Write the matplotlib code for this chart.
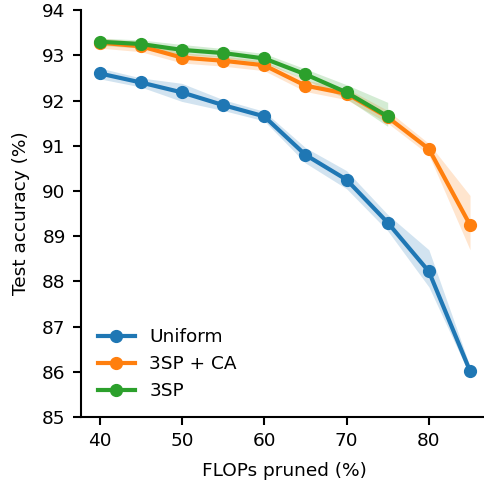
import numpy as np
import matplotlib
matplotlib.use("Agg")
import matplotlib.pyplot as plt

# FLOPs pruned (%)
flops = [40, 45, 50, 55, 60, 65, 70, 75, 80, 85]

uniform = [92.60, 92.40, 92.18, 91.90, 91.65, 90.80, 90.25, 89.30, 88.22, 86.02]
uniform_lo = [92.48, 92.30, 91.98, 91.78, 91.55, 90.62, 90.05, 89.12, 87.88, 85.92]
uniform_hi = [92.72, 92.50, 92.38, 92.02, 91.76, 90.96, 90.45, 89.48, 88.70, 86.12]

ca = [93.28, 93.20, 92.95, 92.88, 92.78, 92.33, 92.15, 91.63, 90.93, 89.25]
ca_lo = [93.16, 93.08, 92.83, 92.76, 92.66, 92.20, 92.02, 91.50, 90.80, 88.70]
ca_hi = [93.38, 93.30, 93.06, 92.98, 92.88, 92.45, 92.27, 91.78, 91.05, 89.90]

sp = [93.30, 93.25, 93.12, 93.05, 92.93, 92.58, 92.18, 91.65]
sp_lo = [93.22, 93.16, 93.02, 92.95, 92.83, 92.46, 92.04, 91.43]
sp_hi = [93.38, 93.34, 93.24, 93.15, 93.04, 92.70, 92.35, 91.96]

series = [
    ("Uniform", flops, uniform, uniform_lo, uniform_hi, "tab:blue"),
    ("3SP + CA", flops, ca, ca_lo, ca_hi, "tab:orange"),
    ("3SP", flops[:len(sp)], sp, sp_lo, sp_hi, "tab:green"),
]

plt.rcParams["font.size"] = 13.3
fig = plt.figure(figsize=(4.84, 4.8), dpi=100)
ax = fig.add_axes([0.1674, 0.131, 0.842, 0.848])

for name, x, y, lo, hi, c in series:
    ax.fill_between(x, lo, hi, color=c, alpha=0.2, linewidth=0)
    ax.plot(x, y, "-o", color=c, lw=3, ms=8.5, label=name)

ax.set_xlim(37.75, 87.25)
ax.set_ylim(85, 94)
ax.set_xticks([40, 50, 60, 70, 80])
ax.set_yticks(range(85, 95))
ax.spines["top"].set_visible(False)
ax.spines["right"].set_visible(False)
ax.spines["left"].set_linewidth(1.5)
ax.spines["bottom"].set_linewidth(1.5)
ax.tick_params(width=1.5, length=6, pad=5)
ax.set_xlabel("FLOPs pruned (%)", labelpad=8)
ax.set_ylabel("Test accuracy (%)", labelpad=9)
ax.legend(loc="lower left", frameon=False)

fig.savefig("out.png")
